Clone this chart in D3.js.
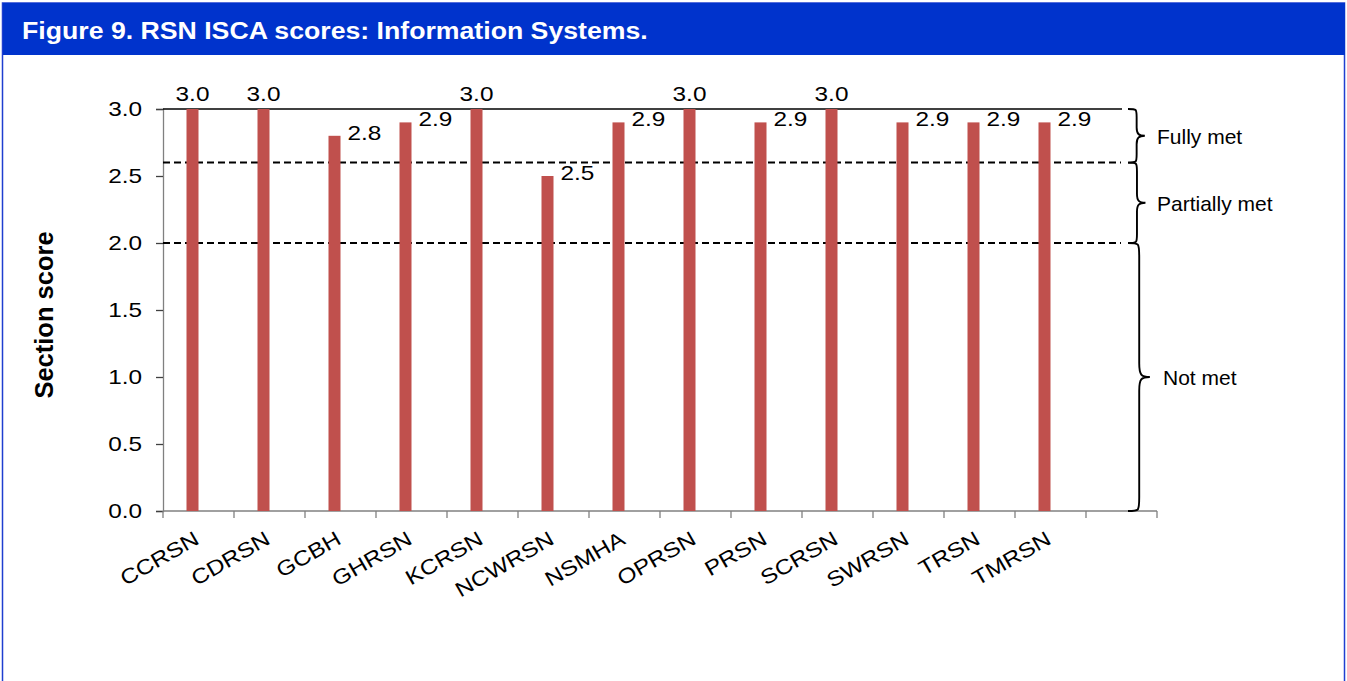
<!DOCTYPE html>
<html>
<head>
<meta charset="utf-8">
<script src="https://cdn.jsdelivr.net/npm/d3@7/dist/d3.min.js"></script>
<style>
  html, body { margin: 0; padding: 0; background: #fff; }
  svg { display: block; font-family: "Liberation Sans", Arial, sans-serif; }
</style>
</head>
<body>
<svg id="chart" width="1347" height="681"></svg>
<script>
// Network abbreviations and their Information Systems section scores
const categories = ["CCRSN", "CDRSN", "GCBH", "GHRSN", "KCRSN", "NCWRSN", "NSMHA",
                    "OPRSN", "PRSN", "SCRSN", "SWRSN", "TRSN", "TMRSN"];
const scores = [3.0, 3.0, 2.8, 2.9, 3.0, 2.5, 2.9, 3.0, 2.9, 3.0, 2.9, 2.9, 2.9];
const yTicks = [0, 0.5, 1.0, 1.5, 2.0, 2.5, 3.0];
const thresholds = [2.0, 2.6];
const bands = [
  { lo: 2.6, hi: 3.0, label: "Fully met" },
  { lo: 2.0, hi: 2.6, label: "Partially met" },
  { lo: 0.0, hi: 2.0, label: "Not met" }
];
const title = "Figure 9. RSN ISCA scores: Information Systems.";

const svg = d3.select("#chart");
const W = 1347, H = 681;
const WIDE = 1.16; // horizontal stretch used for the chart's lettering

// Frame and header band
svg.append("rect").attr("x", 2.5).attr("y", 3).attr("width", W - 5).attr("height", H)
  .attr("fill", "#fff").attr("stroke", "#1f3fd0").attr("stroke-width", 1.5);
svg.append("rect").attr("x", 3).attr("y", 3).attr("width", W - 5).attr("height", 52)
  .attr("fill", "#0033cc");
svg.append("text").attr("transform", `translate(22,39) scale(${WIDE},1)`)
  .attr("fill", "#fff").attr("font-weight", "bold").attr("font-size", 23)
  .text(title);

// Scales: one spare empty slot after the last network
const slots = categories.concat([" "]);
const x = d3.scaleBand().domain(slots).range([163, 1157]).paddingInner(0).paddingOuter(0);
const y = d3.scaleLinear().domain([0, 3]).range([511, 109]);
const barW = 12;
const barOffset = 23.5;

const g = svg.append("g");

// Y axis
const yAxis = d3.axisLeft(y).tickValues(yTicks).tickFormat(d3.format(".1f")).tickSize(7).tickPadding(14);
const ya = g.append("g").attr("transform", "translate(163,0)").call(yAxis);
ya.select(".domain").attr("stroke", "#808080").attr("stroke-width", 1.3);
ya.selectAll(".tick line").attr("stroke", "#404040").attr("stroke-width", 1.3);
ya.selectAll(".tick text")
  .attr("x", 0)
  .attr("transform", `translate(-21,0) scale(${WIDE},1)`)
  .attr("font-size", 21).attr("fill", "#000")
  .attr("font-family", "Liberation Sans, Arial, sans-serif");

// X axis baseline with ticks between categories
g.append("line").attr("x1", 163).attr("x2", 1157).attr("y1", y(0)).attr("y2", y(0))
  .attr("stroke", "#808080").attr("stroke-width", 1.5);
const boundaries = slots.map(d => x(d)).concat([x.range()[1]]);
g.selectAll(".xtick").data(boundaries).join("line").attr("class", "xtick")
  .attr("x1", d => d).attr("x2", d => d).attr("y1", y(0)).attr("y2", y(0) + 7)
  .attr("stroke", "#808080").attr("stroke-width", 1.3);

// Category labels, rotated
g.selectAll(".xlab").data(categories).join("text").attr("class", "xlab")
  .attr("transform", d => `translate(${x(d) + x.bandwidth() / 2 + 2},${y(0) + 32}) rotate(-30) scale(${WIDE},1)`)
  .attr("text-anchor", "end").attr("font-size", 21).attr("fill", "#000")
  .text(d => d);

// Threshold lines
g.append("line").attr("x1", 163).attr("x2", 1122).attr("y1", y(3)).attr("y2", y(3))
  .attr("stroke", "#000").attr("stroke-width", 1.5);
g.selectAll(".thr").data(thresholds).join("line").attr("class", "thr")
  .attr("x1", 163).attr("x2", 1121).attr("y1", d => y(d)).attr("y2", d => y(d))
  .attr("stroke", "#000").attr("stroke-width", 2).attr("stroke-dasharray", "7,4");

// Bars
const data = categories.map((c, i) => ({ c, v: scores[i] }));
g.selectAll(".bar").data(data).join("rect").attr("class", "bar")
  .attr("x", d => x(d.c) + barOffset).attr("width", barW)
  .attr("y", d => y(d.v)).attr("height", d => y(0) - y(d.v))
  .attr("fill", "#c0504d");

// Value labels: centred above full-score bars, beside the others
g.selectAll(".val").data(data).join("text").attr("class", "val")
  .attr("transform", d => {
    const tx = d.v >= 3 ? x(d.c) + barOffset + barW / 2 : x(d.c) + barOffset + barW + 7;
    const ty = d.v >= 3 ? y(d.v) - 8 : y(d.v) + 4;
    return `translate(${tx},${ty}) scale(${WIDE},1)`;
  })
  .attr("text-anchor", d => d.v >= 3 ? "middle" : "start")
  .attr("font-size", 21).attr("fill", "#000")
  .text(d => d3.format(".1f")(d.v));

// Curly braces marking each score band; deeper braces for taller bands
function bracePath(y1, y2) {
  const h = y2 - y1;
  const x0 = 1128;
  const depth = 8 + h * 0.012;          // end curl to spine
  const xs = x0 + depth, tip = xs + depth * 0.95;
  const r = Math.min(14, 7 + h * 0.025);  // curl radius
  const ym = (y1 + y2) / 2;
  return `M${x0},${y1} C${xs},${y1} ${xs},${y1} ${xs},${y1 + r}` +
         ` L${xs},${ym - r} C${xs},${ym - 2} ${xs + 2},${ym} ${tip},${ym}` +
         ` C${xs + 2},${ym} ${xs},${ym + 2} ${xs},${ym + r}` +
         ` L${xs},${y2 - r} C${xs},${y2} ${xs},${y2} ${x0},${y2}`;
}
g.selectAll(".brace").data(bands).join("path").attr("class", "brace")
  .attr("d", d => bracePath(y(d.hi), y(d.lo)))
  .attr("fill", "none").attr("stroke", "#000").attr("stroke-width", 1.9);
g.selectAll(".blab").data(bands).join("text").attr("class", "blab")
  .attr("x", (d, i) => i === 2 ? 1163 : 1157)
  .attr("y", d => (y(d.hi) + y(d.lo)) / 2 + 8)
  .attr("font-size", 21).attr("fill", "#000")
  .text(d => d.label);

// Y axis title
svg.append("text").attr("transform", "translate(53,315) rotate(-90)")
  .attr("text-anchor", "middle").attr("font-weight", "bold").attr("font-size", 25.5)
  .attr("fill", "#000").text("Section score");
</script>
</body>
</html>
